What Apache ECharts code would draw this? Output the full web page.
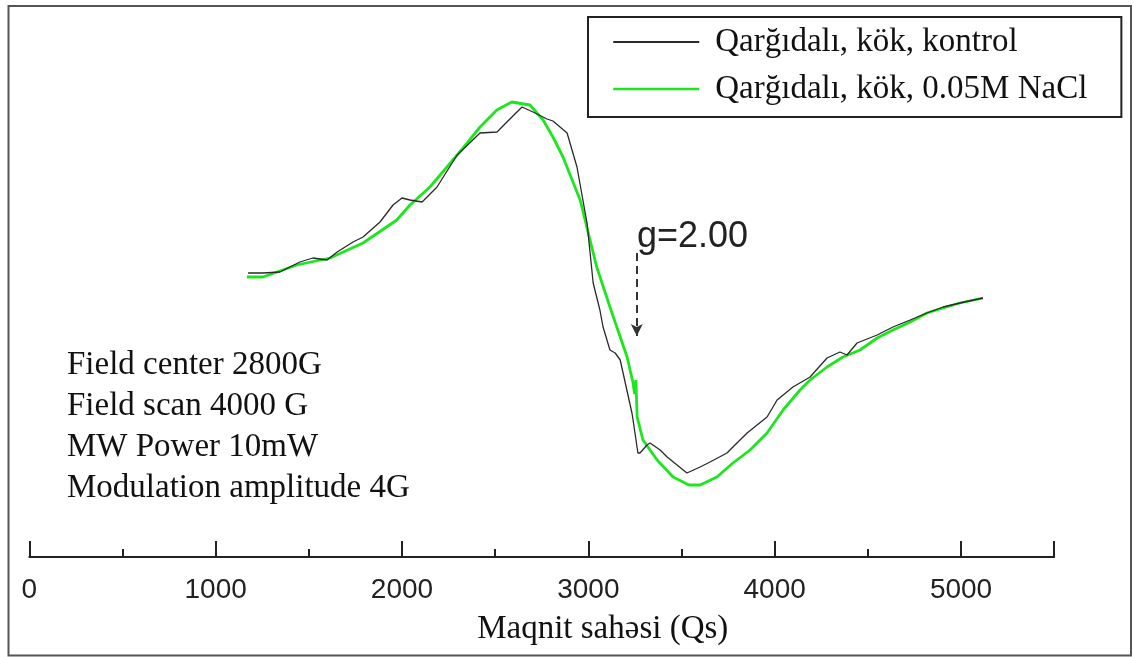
<!DOCTYPE html>
<html>
<head>
<meta charset="utf-8">
<script src="https://cdn.jsdelivr.net/npm/echarts@6/dist/echarts.min.js"></script>
<style>
  html, body { margin: 0; padding: 0; background: #fff; }
  #chart { width: 1134px; height: 657px; }
</style>
</head>
<body>
<div id="chart"></div>
<script>
// field (G) / signal (arb. units)
const kontrolField = [1174, 1254, 1345, 1452, 1522, 1598, 1652, 1737, 1791, 1882, 1952, 2000, 2043, 2108, 2188, 2296, 2419, 2510, 2563, 2644, 2703, 2778, 2810, 2886, 2939, 2993, 3026, 3062, 3079, 3116, 3144, 3171, 3234, 3240, 3250, 3266, 3277, 3315, 3331, 3385, 3423, 3529, 3600, 3653, 3744, 3776, 3852, 3959, 4013, 4098, 4190, 4281, 4350, 4388, 4442, 4550, 4635, 4727, 4817, 4904, 4994, 5118];
const kontrolSignal = [284, 284, 285, 295, 299, 297, 305, 315, 320, 335, 352, 359, 357, 355, 370, 402, 424, 425, 435, 450, 445, 438, 436, 424, 390, 334, 274, 247, 230, 207, 204, 197, 144, 137, 137, 104, 104, 112, 114, 107, 100, 84, 90, 95, 104, 110, 124, 140, 157, 170, 180, 199, 205, 202, 214, 222, 230, 237, 244, 250, 254, 259];

const naclField = [1168, 1254, 1435, 1614, 1791, 1972, 2043, 2150, 2328, 2419, 2509, 2589, 2687, 2757, 2810, 2864, 2956, 3045, 3116, 3208, 3240, 3248, 3255, 3262, 3293, 3369, 3455, 3540, 3600, 3690, 3776, 3868, 3959, 4045, 4136, 4190, 4281, 4366, 4458, 4550, 4635, 4727, 4817, 4904, 4994, 5118];
const naclSignal = [280, 280, 292, 299, 314, 337, 352, 370, 409, 430, 447, 455, 452, 437, 420, 400, 357, 290, 250, 200, 174, 163, 177, 140, 117, 97, 80, 72, 72, 80, 94, 107, 124, 147, 167, 177, 190, 200, 207, 219, 227, 235, 244, 249, 254, 259];

const seriesNames = ["Qarğıdalı, kök, kontrol", "Qarğıdalı, kök, 0.05M NaCl"];
const gLabel = "g=2.00";
const gField = 3260;
const gArrow = [304, 221];
const paramLines = ["Field center 2800G", "Field scan 4000 G", "MW Power 10mW", "Modulation amplitude 4G"];
const axisTitle = "Maqnit sahəsi (Qs)";

const SERIF = '"Liberation Serif", "Times New Roman", serif';
const SANS = '"Liberation Sans", Arial, sans-serif';

function zip(xs, ys) {
  return xs.map((x, i) => [x, ys[i]]);
}

const chart = echarts.init(document.getElementById("chart"));

chart.setOption({
  animation: false,
  backgroundColor: "#fff",
  grid: { left: 29.3, right: 79.8, top: 57, bottom: 97 },
  legend: {
    orient: "vertical",
    left: 588,
    top: 17,
    padding: [8, 34, 11, 24],
    itemWidth: 86,
    itemHeight: 14,
    itemGap: 13,
    borderColor: "#222",
    borderWidth: 2,
    itemStyle: { opacity: 0 },
    textStyle: { fontFamily: SERIF, fontSize: 33, lineHeight: 34, color: "#111", padding: [0, 0, 0, 11] },
    data: [
      { name: seriesNames[0], lineStyle: { width: 2 } },
      { name: seriesNames[1], lineStyle: { width: 2.5 } }
    ]
  },
  xAxis: {
    type: "value",
    min: 0,
    max: 5500,
    interval: 1000,
    name: axisTitle,
    nameLocation: "middle",
    nameGap: 53,
    nameTextStyle: { fontFamily: SERIF, fontSize: 33, color: "#111", padding: [0, 0, 0, 122] },
    axisLine: { lineStyle: { color: "#222", width: 2 } },
    axisTick: { inside: true, length: 16, lineStyle: { color: "#222", width: 2 } },
    minorTick: { show: true, splitNumber: 2, length: 8, lineStyle: { color: "#222", width: 2 } },
    axisLabel: {
      margin: 16, fontFamily: SANS, fontSize: 28, color: "#222", showMaxLabel: false,
      formatter: value => String(value)
    },
    splitLine: { show: false }
  },
  yAxis: { type: "value", min: -3, max: 500, show: false },
  series: [
    {
      name: seriesNames[0],
      type: "line",
      symbol: "none",
      data: zip(kontrolField, kontrolSignal),
      lineStyle: { color: "#2a2a2a", width: 1.3 },
      itemStyle: { color: "#111" },
      z: 3,
      markLine: {
        silent: true,
        symbol: ["none", "arrow"],
        symbolSize: [9, 12],
        label: { show: false },
        lineStyle: { color: "#333", width: 2, type: [8, 5] },
        data: [[{ coord: [gField, gArrow[0]] }, { coord: [gField, gArrow[1]] }]]
      }
    },
    {
      name: seriesNames[1],
      type: "line",
      symbol: "none",
      data: zip(naclField, naclSignal),
      lineStyle: { color: "#1ee61e", width: 2.8 },
      itemStyle: { color: "#3cc060" },
      z: 2
    }
  ],
  graphic: [
    {
      type: "rect",
      shape: { x: 8.5, y: 6, width: 1122.5, height: 649.5 },
      style: { fill: null, stroke: "#555", lineWidth: 2 },
      silent: true
    },
    {
      type: "text",
      style: { text: gLabel, x: 637, y: 237, verticalAlign: "middle", font: "36px " + SANS, fill: "#222" }
    },
    ...paramLines.map((line, i) => ({
      type: "text",
      style: { text: line, x: 67, y: 365 + i * 41, verticalAlign: "middle", font: "33px " + SERIF, fill: "#111" }
    }))
  ]
});
</script>
</body>
</html>
